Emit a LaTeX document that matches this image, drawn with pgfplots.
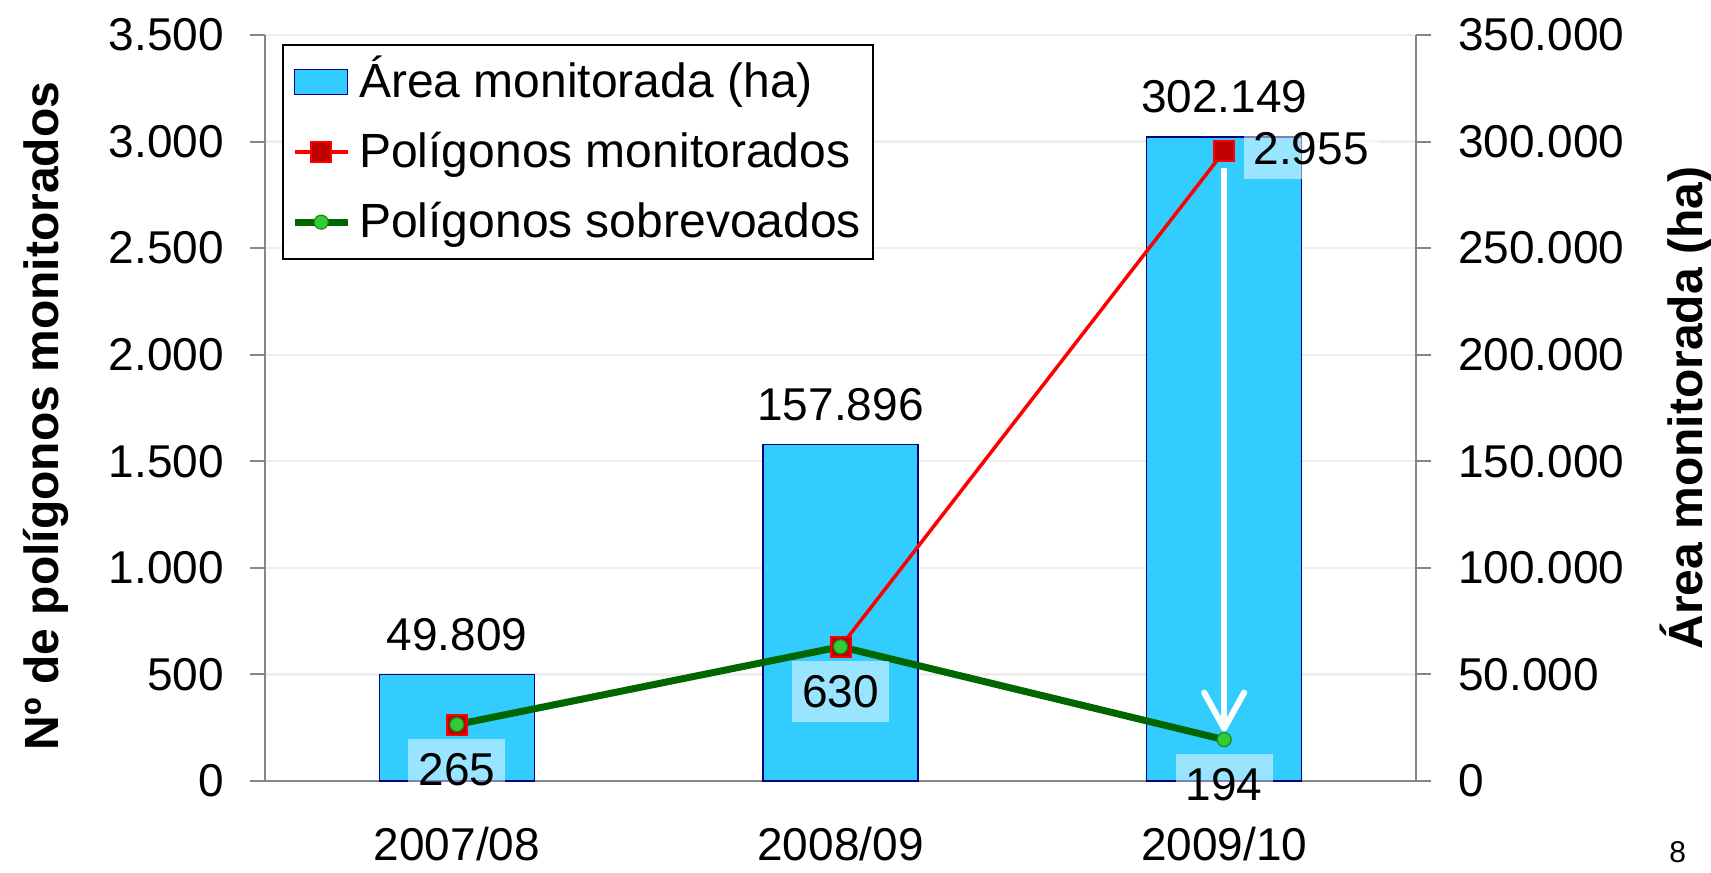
\documentclass[border=0pt]{standalone}
\usepackage{fontspec}
\setmainfont{Liberation Sans}
\usepackage{pgfplots}
\pgfplotsset{compat=1.18}
\usetikzlibrary{arrows.meta}
\definecolor{barfill}{HTML}{33CCFF}
\definecolor{barline}{HTML}{000080}
\definecolor{axisgray}{HTML}{868686}
\definecolor{gridgray}{HTML}{EEEEEE}
\definecolor{redline}{HTML}{FF0000}
\definecolor{redmark}{HTML}{C00000}
\definecolor{greenline}{HTML}{006600}
\definecolor{greenmark}{HTML}{33CC33}
\newcommand\fs{\fontsize{23}{27}\selectfont}
\tikzset{
  blbl/.style={font=\fs, anchor=center, yshift=20pt},
  lbl/.style={font=\fs, fill=white, fill opacity=0.5, text opacity=1, inner xsep=5pt, inner ysep=7pt},
}
\begin{document}
\begin{tikzpicture}
\pgfplotsset{
  base/.style={
    width=575.5pt, height=373pt, scale only axis,
    at={(0pt,0pt)}, anchor=south west,
    xmin=-0.5, xmax=2.5,
    tick align=outside,
    major tick length=7.5pt,
    every tick/.style={axisgray, line width=1pt},
    axis line style={axisgray, line width=1pt},
    ticklabel style={font=\fs, text=black},
    scaled y ticks=false,
  },
}
% bars on the right axis
\begin{axis}[base,
  axis y line*=right, axis x line*=bottom,
  ymin=0, ymax=350000, ytick={0,50000,100000,150000,200000,250000,300000,350000},
  yticklabels={0,50.000,100.000,150.000,200.000,250.000,300.000,350.000},
  yticklabel style={xshift=10pt},
  ymajorgrids, grid style={gridgray, line width=1.2pt},
  xtick={0,1,2}, xticklabels={2007/08,2008/09,2009/10},
  xticklabel style={yshift=-12pt},
  xtick style={draw=none},
]
\addplot[ybar, bar width=77.5pt, fill=barfill, draw=barline, line width=0.6pt]
  coordinates {(0,49809) (1,157896) (2,302149)};
\node[blbl] at (axis cs:0,49809) {49.809};
\node[blbl] at (axis cs:1,157896) {157.896};
\node[blbl] at (axis cs:2,302149) {302.149};
\draw[axisgray, line width=1pt] (axis cs:-0.5,0) -- ++(0pt,-7.5pt);
\draw[axisgray, line width=1pt] (axis cs:0.5,0) -- ++(0pt,-7.5pt);
\draw[axisgray, line width=1pt] (axis cs:1.5,0) -- ++(0pt,-7.5pt);
\draw[axisgray, line width=1pt] (axis cs:2.5,0) -- ++(0pt,-7.5pt);
\end{axis}
% lines on the left axis
\begin{axis}[base, clip=false,
  axis y line*=left, axis x line=none,
  ymin=0, ymax=3500, ytick={0,500,1000,1500,2000,2500,3000,3500},
  yticklabels={0,500,1.000,1.500,2.000,2.500,3.000,3.500},
  yticklabel style={xshift=-9.5pt},
  legend image code/.code={\draw[#1,mark repeat=2,mark phase=2] plot coordinates {(0pt,0pt) (13.25pt,0pt) (26.5pt,0pt)};},
  legend cell align=left,
  legend style={at={(0.0148,0.988)}, anchor=north west, draw=black, line width=1.2pt,
    font=\fontsize{24}{28}\selectfont, fill=white, inner sep=4pt, row sep=6pt,
    nodes={inner sep=2pt, text height=20pt, text depth=5pt},
    /tikz/every odd column/.append style={column sep=2pt}},
]
\addlegendimage{legend image code/.code={\draw[fill=barfill,draw=barline,line width=0.6pt] (0pt,-6.25pt) rectangle (26.5pt,6.25pt);}}
\addlegendentry{Área monitorada (ha)}
\addplot[redline, line width=1.75pt, mark=square*, mark size=5pt,
  mark options={fill=redmark, draw=redline, line width=1pt}]
  coordinates {(0,265) (1,630) (2,2955)};
\addlegendentry{Polígonos monitorados}
\addplot[greenline, line width=3.5pt, mark=*, mark size=3.5pt,
  mark options={fill=greenmark, draw=greenline!60!greenmark, line width=0.6pt}]
  coordinates {(0,265) (1,630) (2,194)};
\addlegendentry{Polígonos sobrevoados}
\node[lbl, yshift=-22.5pt] at (axis cs:0,265) {265};
\node[lbl, yshift=-22.5pt] at (axis cs:1,630) {630};
\node[lbl, yshift=-22.5pt] at (axis cs:2,194) {194};
\node[lbl, anchor=west, xshift=9.5pt, yshift=1pt] at (axis cs:2,2955) {2.955};
\draw[white, line width=3pt, -{Straight Barb[length=18pt,width=20pt,round]}] (axis cs:2,2876) -- (axis cs:2,232);
\end{axis}
\node[rotate=90, font=\bfseries\fontsize{24}{28}\selectfont] at (-109.5pt,182.5pt) {Nº de polígonos monitorados};
\node[rotate=90, font=\bfseries\fontsize{24}{28}\selectfont] at (710.5pt,186.5pt) {Área monitorada (ha)};
\node[font=\fontsize{15}{18}\selectfont, anchor=north west, inner sep=0pt] at (702pt,-30pt) {8};
\pgfresetboundingbox
\path[use as bounding box] (-132.5pt,-45.5pt) rectangle (723pt,390.5pt);
\end{tikzpicture}
\end{document}
